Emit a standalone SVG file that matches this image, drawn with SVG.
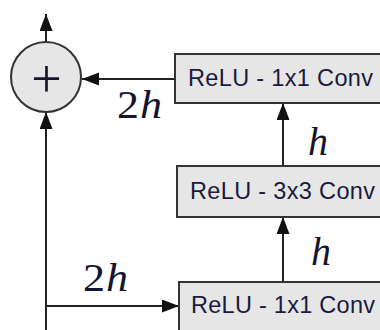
<svg xmlns="http://www.w3.org/2000/svg" width="380" height="330" viewBox="0 0 380 330">
  <style>
    .box { fill: #e6e6e6; stroke: #333; stroke-width: 2; }
    .lbl { font-family: "Liberation Sans", Arial, sans-serif; font-size: 23.5px; fill: #1a1a40; }
    .math { font-family: "Liberation Serif", "Times New Roman", serif; font-size: 40px; fill: #14142e; }
    .wire { stroke: #222; stroke-width: 2; fill: none; marker-end: url(#head); }
  </style>
  <defs>
    <marker id="head" markerUnits="userSpaceOnUse" markerWidth="18" markerHeight="14" refX="17" refY="6.5" orient="auto">
      <path d="M0,0 L17,6.5 L0,13 z" fill="#111"/>
    </marker>
  </defs>
  <rect width="380" height="330" fill="#fff"/>

  <g id="connectors">
    <line class="wire" x1="46" y1="42" x2="46" y2="14"/>
    <line class="wire" x1="175" y1="79" x2="82" y2="79"/>
    <line class="wire" x1="283" y1="166" x2="283" y2="103"/>
    <line class="wire" x1="283" y1="282" x2="283" y2="217"/>
    <line class="wire" x1="46" y1="330" x2="46" y2="112"/>
    <line class="wire" x1="46" y1="306" x2="179" y2="306"/>
    <!-- edge widths -->
    <text class="math" transform="translate(117 118) scale(1.1 1)">2<tspan font-style="italic" dx="1">h</tspan></text>
    <text class="math" transform="translate(83 291) scale(1.1 1)">2<tspan font-style="italic" dx="1">h</tspan></text>
    <text class="math" x="308" y="155" font-style="italic">h</text>
    <text class="math" x="311" y="265" font-style="italic">h</text>
  </g>

  <g id="sum">
    <circle cx="46" cy="77" r="35" class="box"/>
    <text x="46.5" y="97" text-anchor="middle" font-family="Liberation Serif, serif" font-size="54" fill="#14142e">+</text>
  </g>

  <g id="conv-top">
    <rect class="box" x="175" y="54" width="230" height="49"/>
    <text class="lbl" x="188" y="86" textLength="185">ReLU - 1x1 Conv</text>
  </g>

  <g id="conv-mid">
    <rect class="box" x="177" y="166" width="230" height="51"/>
    <text class="lbl" x="190" y="199" textLength="185">ReLU - 3x3 Conv</text>
  </g>

  <g id="conv-bottom">
    <rect class="box" x="179" y="282" width="230" height="60"/>
    <text class="lbl" x="191" y="313" textLength="184">ReLU - 1x1 Conv</text>
  </g>
</svg>
